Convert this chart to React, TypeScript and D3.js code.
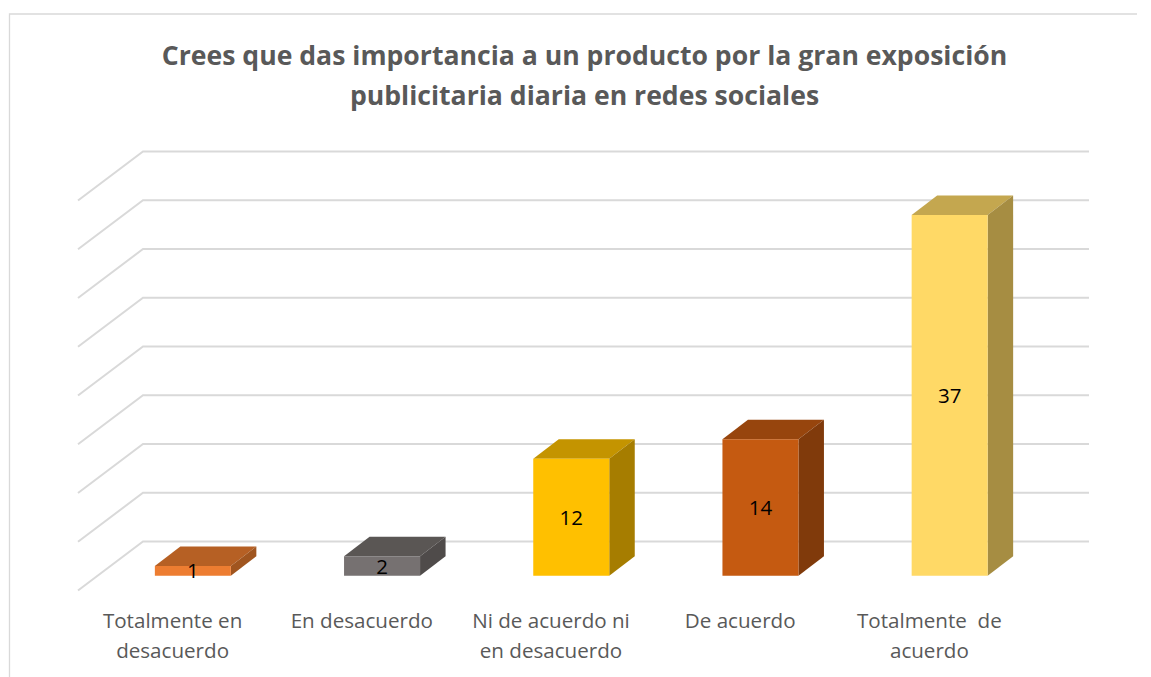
import React from "react";
import * as d3 from "d3";

const titleLines = ["Crees que das importancia a un producto por la gran exposición", "publicitaria diaria en redes sociales"];
const categories = ["Totalmente en desacuerdo", "En desacuerdo", "Ni de acuerdo ni en desacuerdo", "De acuerdo", "Totalmente  de acuerdo"];
const categoryLines = [["Totalmente en", "desacuerdo"], ["En desacuerdo"], ["Ni de acuerdo ni", "en desacuerdo"], ["De acuerdo"], ["Totalmente  de", "acuerdo"]];
const values = [1, 2, 12, 14, 37];
const gridTicks = [0, 5, 10, 15, 20, 25, 30, 35, 40];
const frontColors = ["#ED7D31", "#767171", "#FFC000", "#C55A11", "#FFD966"];
const topColors = ["#B66024", "#5A5654", "#C49400", "#97450D", "#C4A74F"];
const sideColors = ["#A0551F", "#4F4B4A", "#A67D00", "#803A0B", "#A68D42"];

const W = 1151, H = 677;
const floorLeft = 78, floorRight = 1024, floorFront = 590.5;
const depthX = 65, depthY = 49;
const barDepthX = 25.5, barDepthY = 19.5;
const barWidth = 76;

export default function App() {
  const x = d3.scaleBand<string>().domain(categories).range([floorLeft, floorRight]);
  const y = d3.scaleLinear().domain([0, 40]).range([floorFront, floorFront - 390]);
  const path = d3.line();
  const frontDx = (depthX - barDepthX) / 2 + 0.5;
  const frontDy = (depthY - barDepthY) / 2;

  return (
    <svg width={W} height={H} style={{ position: "absolute", left: 0, top: 0, background: "#fff" }}>
      <path d={`M9.5 677 V14 H1137`} fill="none" stroke="#D9D9D9" strokeWidth={1.3} />
      <g fontFamily="'Open Sans', sans-serif" fontWeight={700} fontSize={26.6} fill="#595959" textAnchor="middle">
        {titleLines.map((t, i) => (
          <text key={i} x={584.5} y={65 + i * 39.5}>{t}</text>
        ))}
      </g>
      <g fill="none" stroke="#D9D9D9" strokeWidth={2}>
        {gridTicks.map((t) => (
          <path key={t} d={path([
            [floorLeft, y(t)],
            [floorLeft + depthX, y(t) - depthY],
            [floorRight + depthX, y(t) - depthY],
          ]) as string} />
        ))}
      </g>
      {categories.map((c, i) => {
        const cx = (x(c) as number) + x.bandwidth() / 2 + frontDx;
        const l = cx - barWidth / 2, r = cx + barWidth / 2;
        const b = floorFront - frontDy;
        const t = y(values[i]) - frontDy;
        return (
          <g key={c}>
            <path d={path([[l, t], [r, t], [r + barDepthX, t - barDepthY], [l + barDepthX, t - barDepthY]]) + "Z"} fill={topColors[i]} />
            <path d={path([[r, t], [r + barDepthX, t - barDepthY], [r + barDepthX, b - barDepthY], [r, b]]) + "Z"} fill={sideColors[i]} />
            <rect x={l} y={t} width={barWidth} height={b - t} fill={frontColors[i]} />
          </g>
        );
      })}
      <g fontFamily="'Open Sans', sans-serif" fontSize={20.5} fill="#000" textAnchor="middle">
        {categories.map((c, i) => {
          const cx = (x(c) as number) + x.bandwidth() / 2 + frontDx;
          const b = floorFront - frontDy;
          const t = y(values[i]) - frontDy;
          return <text key={c} x={cx} y={(b + t) / 2 + 7.5}>{values[i]}</text>;
        })}
      </g>
      <g fontFamily="'Open Sans', sans-serif" fontSize={20.6} fill="#595959" textAnchor="middle">
        {categories.map((c, i) =>
          categoryLines[i].map((line, j) => (
            <text key={j} x={(x(c) as number) + x.bandwidth() / 2} y={628 + j * 29.5} xmlSpace="preserve">{line}</text>
          ))
        )}
      </g>
    </svg>
  );
}
